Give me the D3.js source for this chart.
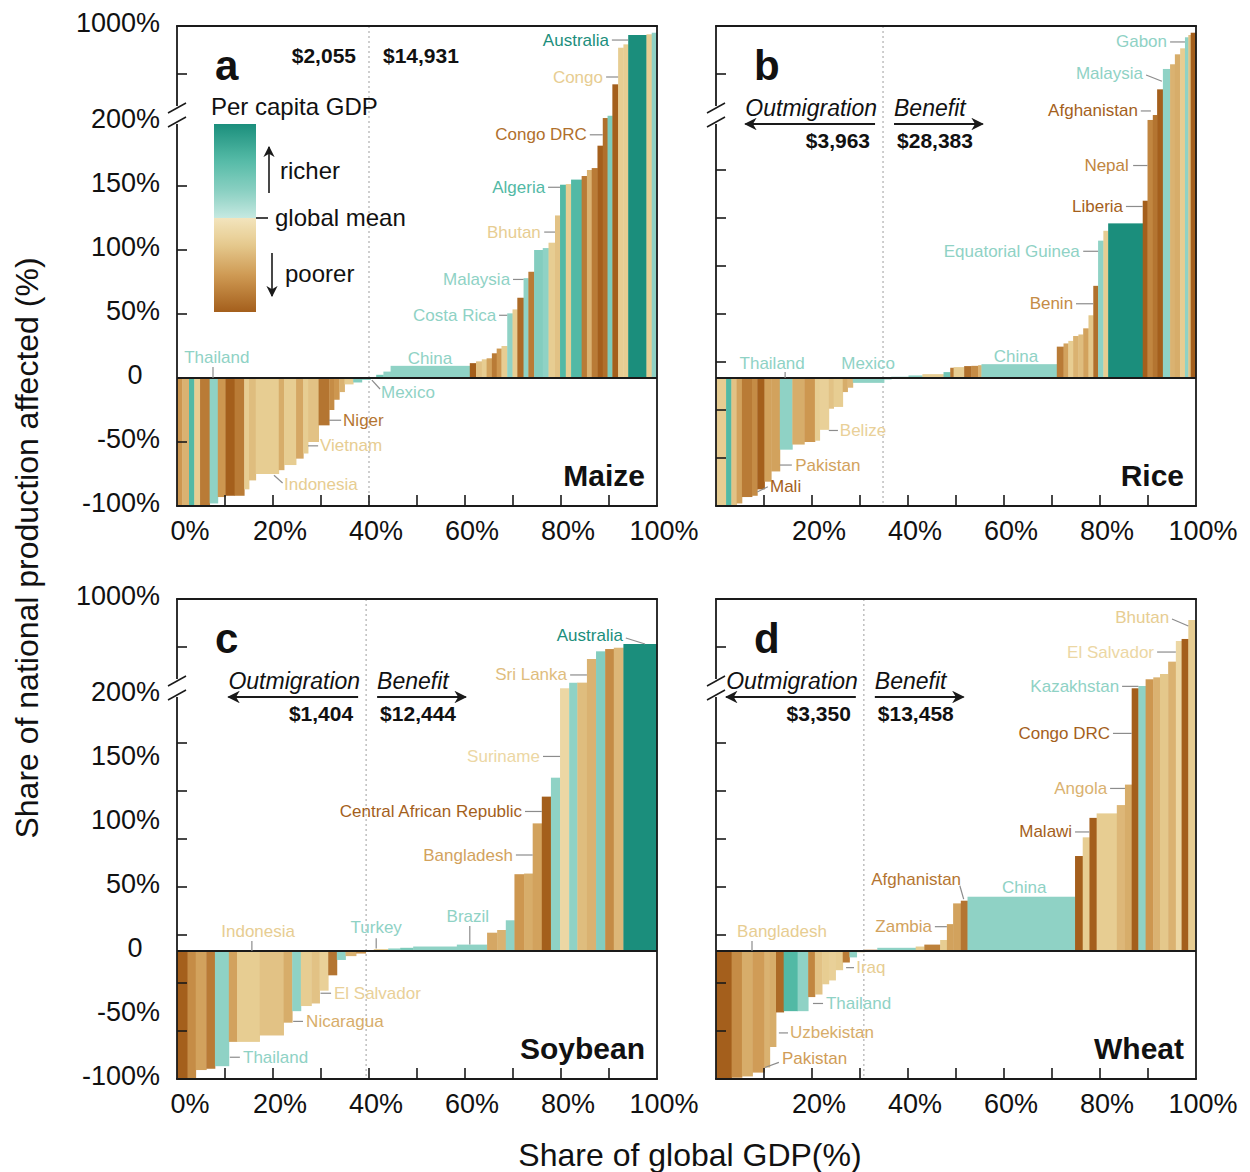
<!DOCTYPE html>
<html><head><meta charset="utf-8">
<script src="https://cdn.jsdelivr.net/npm/d3@7"></script>
<style>
body{margin:0;background:#fff}
text{font-family:'Liberation Sans',Arial,Helvetica,sans-serif;fill:#111}
</style>
</head><body>
<svg id="chart" width="1250" height="1172"></svg>
<script>
// ---------------- DATA ----------------
// widths = share of global GDP (%), values = share of national production affected (%), tone = per-capita GDP relative to global mean (-3 poorest … +3 richest)
const maizeShare = [1.1,1.4,1.1,1.2,2.0,1.7,1.6,1.9,2.0,1.0,1.4,4.8,1.1,2.5,1.5,1.0,2.2,2.2,1.0,1.1,1.1,1.8,1.8,1.8,
  1.2,1.5,1.5,16.5,1.3,1.2,1.0,1.1,1.0,1.0,1.2,1.1,1.0,1.3,1.0,1.2,1.8,1.2,1.35,1.05,1.2,1.1,2.2,1.1,1.0,1.2,1.1,1.0,1.0,1.2,1.1,1.0,3.8,1.1,1.1];
const maizeValue = [-100,-100,-100,-100,-100,-98,-93,-92,-92,-87,-80,-75,-72,-68,-63,-59,-50,-37,-25,-17,-11,-5,-3.5,-1.5,
  0.8,2.5,5,9.5,11.6,13,14.6,15.4,19.3,23,25,50.5,53.6,62.7,78,83,100,101.5,105.7,127,151,151.5,155,157.8,162.5,164,181.5,233,252,514,819,847,925,931,944];
const maizeTone = [-2,-1.5,2,-1,-2.5,1,-2,-3,-2.5,-1,-1.3,-1,-1.6,-1,-1.7,-1,-1.2,-2.6,-2.2,-2,-1.5,-1,1.2,1,
  1,1.5,1,1,-3,-1.2,-1,-1.8,-2.5,-2,-1,1,-1,-2.8,1,-2.5,1.2,1,-1,-1.2,2,-1,2,-2.5,-1.5,-2.5,-3,-2.7,1.3,-3,-1,-1,3,-1,1];

const riceShare = [2.1,1.1,1.1,1.1,2.1,1.1,1.5,1.4,1.8,2.6,2.5,2.2,1.0,1.9,1.0,1.9,1.0,1.1,6.5,1.5,
  3.6,2.9,4.4,1.4,0.7,2.2,1.5,1.4,0.7,15.7,1.4,1.0,1.0,1.1,1.0,1.1,1.0,1.0,1.1,1.0,7.2,1.0,1.1,0.9,1.2,1.5,1.0,1.1,1.0,0.7,0.5,1.1];
const riceValue = [-100,-100,-100,-98,-93,-92,-87,-81,-73,-56,-52,-50,-49,-40.5,-24,-22.6,-11,-7.6,-3.8,-1.2,
  1,2,3,4.6,8,8.5,9.3,9.5,10,10.8,24.5,27,29,32.8,34,38.8,49,72,107.3,115,120.8,138.5,217,258,472,642,681,764,814,906,925,944];
const riceTone = [-1,2,-1.2,-1.8,-2.5,-2.2,-3,-1.8,-1.8,1,-1.6,-2,-1,-0.9,-1.2,-1,-1.6,-1.4,1,1,
  1,1,-1,1.5,-2.5,-1,-2.7,-2.2,-1.5,1,-2.5,-1.8,-1,-1.5,-1.3,-1.8,-1.1,-2.7,1,-1,3,-3,-2.3,-2.6,-3,1,-1.5,-1.6,-1,1,-1.2,-3];

const soyShare = [2.2,1.7,2.2,1.8,2.9,1.7,4.7,5.0,1.8,1.8,2.2,1.7,1.8,1.8,1.8,2.2,2.0,
  1.7,3.0,2.5,2.7,9.1,6.3,2.1,1.8,1.8,2.0,1.8,1.9,1.9,1.9,1.9,1.7,2.0,1.9,1.9,1.8,2.0,7.0];
const soyValue = [-100,-100,-93,-92,-90,-71,-71,-66,-56,-47,-43,-41,-31,-19,-7,-4,-2,
  0.5,1.5,2,2.5,3.5,5,14.3,16.4,24,60,60.5,99.7,120.6,135.4,256,302,303,500,564,583,594,625];
const soyTone = [-3,-2.2,-1.8,-2.5,1,-1.8,-1,-1.2,-1.6,1,-1,-1.2,-0.9,-2.6,1,-1.5,-2,
  1,-1,1,1.3,1,1,-1.7,-1.5,1,-2,-1.6,-1.8,-3,1,-0.7,1,-1.3,-1.5,1.2,-2.2,-1.4,3];

const wheatShare = [3.25,2.15,2.2,2.5,1.1,1.3,1.6,2.9,2.2,1.4,1.5,1.4,1.4,1.5,1.4,1.5,1.6,
  2.7,8.0,1.8,3.3,1.4,1.3,1.6,1.4,22.4,1.6,1.4,1.5,4.2,1.7,1.4,1.4,1.5,1.6,1.4,1.7,1.6,1.2,1.4,1.6];
const wheatValue = [-100,-99,-98,-95,-91,-75,-48,-47,-47,-36,-34,-26,-23,-15,-9,-5,-1,
  1,2.5,3.5,5,8.6,21,37.2,39.3,42.4,74.2,88.8,104,107.5,114,130,256,275,331,347,375,478,650,667,825];
const wheatTone = [-3,-2.2,-1.6,-1.9,-1.5,-1.6,-2.8,2,1,-2.3,-1.2,-1,-0.9,-1,-2.5,1,-1,
  -2.8,1,-1,-2.4,-1,-1.8,-1.8,-2.6,1,-3,-1,-3,-1,-1.4,-1.6,-3,1,-2,-1.5,-1.1,-1.5,-0.7,-3,-1];

// labels: [name, textX(share), textY(value), anchor, leaderX1, leaderV1, leaderX2, leaderV2, tone]
const maizeLabels = [
  ['Australia',90.0,883,'end',90.6,883,94.0,883,3],
  ['Congo',88.75,575,'end',89.4,575,91.9,575,-1],
  ['Congo DRC',85.4,190,'end',86.0,190,88.7,190,-2.7],
  ['Algeria',76.7,149,'end',77.3,149,79.8,149,2],
  ['Bhutan',75.8,114,'end',76.5,114,78.75,114,-1],
  ['Malaysia',69.4,77,'end',70.0,77,72.2,77,1],
  ['Costa Rica',66.5,49,'end',67.1,49,68.8,49,1],
  ['China',52.7,15,'middle',null,null,null,null,1],
  ['Thailand',8.3,16,'middle',7.5,8.6,7.5,0,1],
  ['Mexico',42.5,-11.7,'start',40.6,-1.6,42.3,-8.6,1],
  ['Niger',34.6,-33,'start',31.7,-33,34.2,-33,-2.6],
  ['Vietnam',29.8,-53,'start',27.3,-53,29.4,-53,-1],
  ['Indonesia',22.3,-83,'start',20.2,-76,22.0,-82,-1]
];
const riceLabels = [
  ['Gabon',93.96,867,'end',94.6,867,97.7,867,1],
  ['Malaysia',88.96,608,'end',89.6,592,92.9,540,1],
  ['Afghanistan',87.9,292,'end',88.5,292,90.6,292,-3],
  ['Nepal',86.0,166,'end',86.9,166,89.9,166,-2.3],
  ['Liberia',84.8,134,'end',85.4,134,88.9,134,-3],
  ['Equatorial Guinea',75.8,99,'end',76.5,99,79.6,99,1],
  ['Benin',74.4,58,'end',75.0,58,78.6,58,-2.2],
  ['China',62.5,17,'middle',null,null,null,null,1],
  ['Thailand',11.7,11,'middle',14.4,4.7,14.4,0,1],
  ['Mexico',31.7,11.7,'middle',null,null,null,null,1],
  ['Belize',25.8,-41,'start',23.5,-41,25.4,-41,-0.9],
  ['Pakistan',16.5,-68,'start',13.3,-68,15.8,-68,-1.8],
  ['Mali',11.25,-85,'start',8.6,-89,10.8,-85,-3]
];
const soyLabels = [
  ['Australia',92.9,700,'end',93.5,675,97.5,625,3],
  ['Sri Lanka',81.25,367,'end',81.9,367,85.4,367,-1.3],
  ['Suriname',75.6,152,'end',76.25,152,79.8,152,-0.7],
  ['Central African Republic',71.9,109,'end',72.5,109,76.0,109,-3],
  ['Bangladesh',70.0,75,'end',70.6,75,74.1,75,-1.8],
  ['Brazil',60.6,27.3,'middle',61.0,19.5,61.0,5,1],
  ['Turkey',41.5,18,'middle',41.5,10,41.5,2,1],
  ['Indonesia',16.9,15.6,'middle',15.6,7.8,15.6,0,-1],
  ['El Salvador',32.7,-33,'start',29.9,-33,32.1,-33,-0.9],
  ['Nicaragua',26.9,-55,'start',24.2,-55,26.25,-55,-1.6],
  ['Thailand',13.75,-83,'start',11.0,-83,13.1,-83,1]
];
const wheatLabels = [
  ['Bhutan',94.4,850,'end',95.0,833,98.4,775,-1],
  ['El Salvador',91.25,558,'end',91.9,558,95.8,558,-0.7],
  ['Kazakhstan',84.0,272,'end',84.6,272,88.0,272,1],
  ['Congo DRC',82.1,170,'end',82.7,170,86.6,170,-3],
  ['Angola',81.5,127,'end',82.1,127,85.2,127,-1.5],
  ['Malawi',74.2,93,'end',74.8,93,77.8,93,-3],
  ['Afghanistan',41.7,56,'middle',50.8,51,51.6,40.5,-2.6],
  ['China',64.2,50,'middle',null,null,null,null,1],
  ['Zambia',45.0,19,'end',45.6,19,48.1,19,-1.8],
  ['Bangladesh',13.75,15.6,'middle',7.5,7.8,7.5,0,-1],
  ['Iraq',29.2,-13,'start',27.1,-13,28.75,-13,-1],
  ['Thailand',22.9,-41,'start',20.2,-41,22.3,-41,1],
  ['Uzbekistan',15.4,-64,'start',13.1,-64,15.0,-64,-1.6],
  ['Pakistan',13.75,-84,'start',10.2,-91,13.1,-87,-1.9]
];

const panelLetters = ['a','b','c','d'];
const cropNames = ['Maize','Rice','Soybean','Wheat'];
const splitShare = [40, 34.8, 39.4, 30.8];
const poorGDP = ['$2,055','$3,963','$1,404','$3,350'];
const richGDP = ['$14,931','$28,383','$12,444','$13,458'];
const xTickValues = [10,20,30,40,50,60,70,80,90];
const xLabelsLeft = [0,20,40,60,80,100];
const xLabelsRight = [20,40,60,80,100];
const yLabelValues = [1000,200,150,100,50,0,-50,-100];
const yLabelText = ['1000%','200%','150%','100%','50%','0','-50%','-100%'];
const yTicksA = [-50,50,100,150,600];
const yTicksOther = [-62.5,-25,12.5,50,87.5,125,162.5,600];

// ---------------- DRAW ----------------
const svg = d3.select('#chart');
const color = d3.scaleLinear()
  .domain([-3,-2,-1,-0.3,0.3,1,2,3])
  .range(['#a45f1c','#cd9750','#e7cd92','#f3e4bd','#c6e9e1','#8fd2c5','#52b9a5','#1b8e7c'])
  .interpolate(d3.interpolateRgb);

const panels = [
  {share:maizeShare, value:maizeValue, tone:maizeTone, labels:maizeLabels, yTicks:yTicksA, xl:xLabelsLeft, left:true},
  {share:riceShare, value:riceValue, tone:riceTone, labels:riceLabels, yTicks:yTicksOther, xl:xLabelsRight, left:false},
  {share:soyShare, value:soyValue, tone:soyTone, labels:soyLabels, yTicks:yTicksOther, xl:xLabelsLeft, left:true},
  {share:wheatShare, value:wheatValue, tone:wheatTone, labels:wheatLabels, yTicks:yTicksOther, xl:xLabelsRight, left:false}
];
const frames = [{x:177,y:26},{x:716,y:26},{x:177,y:599},{x:716,y:599}];
const PW = 480, PH = 480;
const INK = '#1a1a1a';

const defs = svg.append('defs');
function arrowMarker(id){
  defs.append('marker').attr('id',id).attr('viewBox','0 0 10 10').attr('refX',9).attr('refY',5)
    .attr('markerWidth',7).attr('markerHeight',7).attr('orient','auto-start-reverse')
    .append('path').attr('d','M0,0 L10,5 L0,10 L3,5 Z').attr('fill',INK);
}
arrowMarker('arr');

panels.forEach((p,i)=>{
  const f = frames[i];
  const x = d3.scaleLinear().domain([0,100]).range([f.x, f.x+PW]);
  const y = d3.scaleLinear().domain([-100,0,200,1000]).range([f.y+PH, f.y+352, f.y+96, f.y]);
  const g = svg.append('g');

  // split dotted line
  g.append('line').attr('x1',x(splitShare[i])).attr('x2',x(splitShare[i]))
    .attr('y1',f.y).attr('y2',f.y+PH).attr('stroke','#b5b5b5').attr('stroke-width',1.3).attr('stroke-dasharray','2,3');

  // bars
  let cum = 0;
  const bars = p.share.map((w,j)=>{const b={x0:cum,x1:cum+w,v:p.value[j],t:p.tone[j]}; cum+=w; return b;});
  g.append('g').selectAll('rect').data(bars).join('rect')
    .attr('x',d=>x(d.x0)).attr('width',d=>Math.max(0.5,x(d.x1)-x(d.x0)+0.4))
    .attr('y',d=>Math.min(y(d.v),y(0))).attr('height',d=>Math.abs(y(d.v)-y(0)))
    .attr('fill',d=>color(d.t));

  // frame
  const yb1 = y(200)-14, yb2 = y(200);
  const fl = (x1,y1,x2,y2,w=1.8)=>g.append('line').attr('x1',x1).attr('y1',y1).attr('x2',x2).attr('y2',y2)
      .attr('stroke',INK).attr('stroke-width',w);
  fl(f.x-0.9,f.y,f.x+PW+0.9,f.y);
  fl(f.x+PW,f.y,f.x+PW,f.y+PH);
  fl(f.x-0.9,f.y+PH,f.x+PW+0.9,f.y+PH);
  fl(f.x,f.y,f.x,yb1-2);
  fl(f.x,yb2+2,f.x,f.y+PH);
  fl(f.x,y(0),f.x+PW,y(0),2);
  // break marks
  [yb1,yb2].forEach(yc=>fl(f.x-9,yc+5,f.x+9,yc-5,1.5));

  // ticks
  p.yTicks.forEach(v=>fl(f.x,y(v),f.x+10,y(v),1.6));
  xTickValues.forEach(v=>fl(x(v),f.y+PH,x(v),f.y+PH-11,1.6));

  // x tick labels
  p.xl.forEach(v=>g.append('text').attr('x',x(v)+(v===0?13:7)).attr('y',f.y+PH+34)
      .attr('text-anchor','middle').attr('font-size',27).text(v+'%'));

  // y tick labels
  if(p.left){
    yLabelValues.forEach((v,k)=>g.append('text')
      .attr('x', v===0 ? f.x-42 : f.x-17).attr('text-anchor', v===0?'middle':'end')
      .attr('y', y(v)-3).attr('dominant-baseline','central').attr('font-size',27).text(yLabelText[k]));
  }

  // country labels
  p.labels.forEach(l=>{
    const [name,tx,tv,anchor,x1,v1,x2,v2,tone] = l;
    if(x1!==null){
      g.append('line').attr('x1',x(x1)).attr('y1',y(v1)).attr('x2',x(x2)).attr('y2',y(v2))
        .attr('stroke','#8c8c8c').attr('stroke-width',1.2);
    }
    g.append('text').attr('x',x(tx)).attr('y',y(tv)).attr('text-anchor',anchor)
      .attr('dominant-baseline','central').attr('font-size',17)
      .style('fill',color(tone)).text(name);
  });

  // panel letter
  g.append('text').attr('x',f.x+38).attr('y',f.y+54).attr('font-size',42).attr('font-weight','bold').text(panelLetters[i]);
  // crop name
  g.append('text').attr('x',f.x+PW-12).attr('y',y(0)+108).attr('text-anchor','end')
    .attr('font-size',30).attr('font-weight','bold').text(cropNames[i]);

  // GDP annotations
  const sx = x(splitShare[i]);
  const dy = i===0 ? 37 : 122;
  g.append('text').attr('x',sx-13).attr('y',f.y+dy).attr('text-anchor','end')
    .attr('font-size',21).attr('font-weight','bold').text(poorGDP[i]);
  g.append('text').attr('x',sx+14).attr('y',f.y+dy).attr('text-anchor','start')
    .attr('font-size',21).attr('font-weight','bold').text(richGDP[i]);
  if(i>0){
    const t1 = g.append('text').attr('x',sx-6).attr('y',f.y+90).attr('text-anchor','end')
      .attr('font-size',23).attr('font-style','italic').text('Outmigration');
    const w1 = t1.node().getComputedTextLength();
    g.append('line').attr('x1',sx-8).attr('y1',f.y+98).attr('x2',sx-6-w1).attr('y2',f.y+98)
      .attr('stroke',INK).attr('stroke-width',1.8).attr('marker-end','url(#arr)');
    const t2 = g.append('text').attr('x',sx+11).attr('y',f.y+90).attr('text-anchor','start')
      .attr('font-size',23).attr('font-style','italic').text('Benefit');
    const w2 = t2.node().getComputedTextLength();
    g.append('line').attr('x1',sx+11).attr('y1',f.y+98).attr('x2',sx+11+w2+17).attr('y2',f.y+98)
      .attr('stroke',INK).attr('stroke-width',1.8).attr('marker-end','url(#arr)');
  }
});

// ---------- legend (panel a) ----------
const lf = frames[0];
const grad = defs.append('linearGradient').attr('id','lg').attr('x1',0).attr('y1',0).attr('x2',0).attr('y2',1);
d3.range(0,11).forEach(k=>{
  const t = k/10;
  grad.append('stop').attr('offset',(t*0.5*100)+'%').attr('stop-color',color(3-2.7*t));
});
d3.range(0,11).forEach(k=>{
  const t = k/10;
  grad.append('stop').attr('offset',(50+t*50)+'%').attr('stop-color',color(-0.3-2.7*t));
});
const L = svg.append('g');
L.append('text').attr('x',lf.x+34).attr('y',lf.y+89).attr('font-size',24).text('Per capita GDP');
L.append('rect').attr('x',lf.x+37).attr('y',lf.y+98).attr('width',42).attr('height',188).attr('fill','url(#lg)');
L.append('line').attr('x1',lf.x+79).attr('x2',lf.x+91).attr('y1',lf.y+192).attr('y2',lf.y+192).attr('stroke',INK).attr('stroke-width',1.6);
L.append('text').attr('x',lf.x+98).attr('y',lf.y+200).attr('font-size',24).text('global mean');
L.append('line').attr('x1',lf.x+92).attr('x2',lf.x+92).attr('y1',lf.y+167).attr('y2',lf.y+121)
  .attr('stroke',INK).attr('stroke-width',1.6).attr('marker-end','url(#arr)');
L.append('text').attr('x',lf.x+103).attr('y',lf.y+153).attr('font-size',24).text('richer');
L.append('line').attr('x1',lf.x+95).attr('x2',lf.x+95).attr('y1',lf.y+227).attr('y2',lf.y+270)
  .attr('stroke',INK).attr('stroke-width',1.6).attr('marker-end','url(#arr)');
L.append('text').attr('x',lf.x+108).attr('y',lf.y+256).attr('font-size',24).text('poorer');

// ---------- axis titles ----------
svg.append('text').attr('transform','translate(27,548) rotate(-90)').attr('text-anchor','middle')
  .attr('dominant-baseline','central').attr('font-size',32).text('Share of national production affected (%)');
svg.append('text').attr('x',690).attr('y',1166).attr('text-anchor','middle')
  .attr('font-size',32).text('Share of global GDP(%)');
</script>
</body></html>
